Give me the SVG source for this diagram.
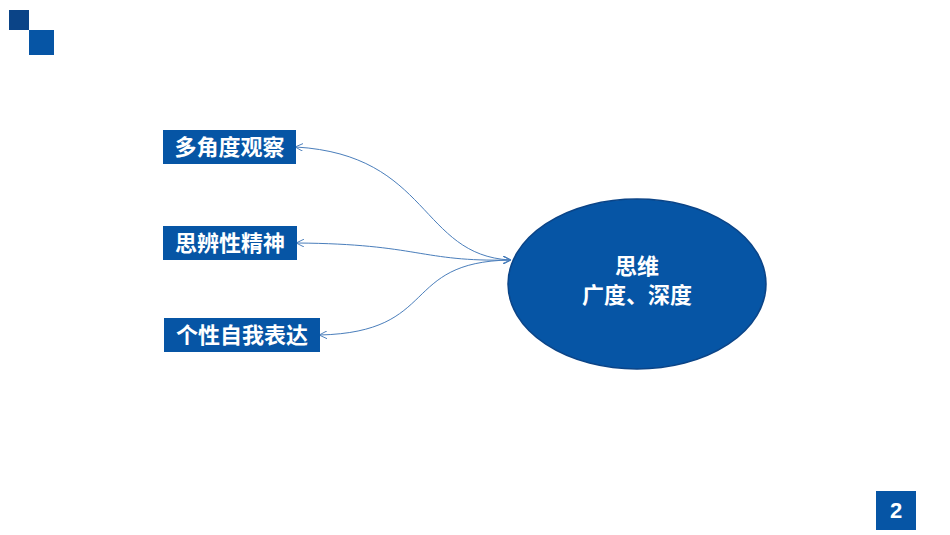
<svg xmlns="http://www.w3.org/2000/svg" width="950" height="535" viewBox="0 0 950 535">
<style>
.box{fill:#0655A5}
.t{fill:#fff;font-family:"Liberation Sans","Noto Sans CJK SC",sans-serif;font-weight:bold;font-size:22px}
.c{fill:none;stroke:#4A7EBB;stroke-width:1}
</style>
<defs>
<marker id="a" viewBox="0 0 10 10" refX="9" refY="5" markerWidth="8" markerHeight="8" orient="auto-start-reverse" markerUnits="userSpaceOnUse">
<path d="M0,0 L10,5 L0,10" fill="none" stroke="#4A7EBB" stroke-width="1.2"/>
</marker>
</defs>
<rect width="950" height="535" fill="#fff"/>
<rect x="9" y="10" width="20" height="20" fill="#0B4487"/>
<rect x="29" y="30" width="25" height="25" fill="#0655A5"/>
<g id="connectors">
<path class="c" d="M510,260 C420,255 430,155 296,147" marker-start="url(#a)" marker-end="url(#a)"/>
<path class="c" d="M510,260 C420,262 420,244 297,243" marker-start="url(#a)" marker-end="url(#a)"/>
<path class="c" d="M510,260 C400,262 440,332 320,335" marker-start="url(#a)" marker-end="url(#a)"/>
</g>
<g id="n1"><rect class="box" x="163" y="130" width="133" height="34"/><text class="t" x="229.5" y="155" text-anchor="middle">多角度观察</text></g>
<g id="n2"><rect class="box" x="163" y="226" width="134" height="34"/><text class="t" x="230" y="251" text-anchor="middle">思辨性精神</text></g>
<g id="n3"><rect class="box" x="164" y="318" width="156" height="34"/><text class="t" x="242" y="343" text-anchor="middle">个性自我表达</text></g>
<g id="center"><ellipse cx="637" cy="284" rx="129" ry="85" fill="#0655A5" stroke="#0B4487" stroke-width="1.5"/>
<text class="t" x="637" y="274" text-anchor="middle">思维</text>
<text class="t" x="637" y="303" text-anchor="middle">广度、深度</text></g>
<g id="page"><rect class="box" x="876" y="491" width="40" height="39"/><text class="t" x="896" y="518" text-anchor="middle" font-size="20">2</text></g>
</svg>
